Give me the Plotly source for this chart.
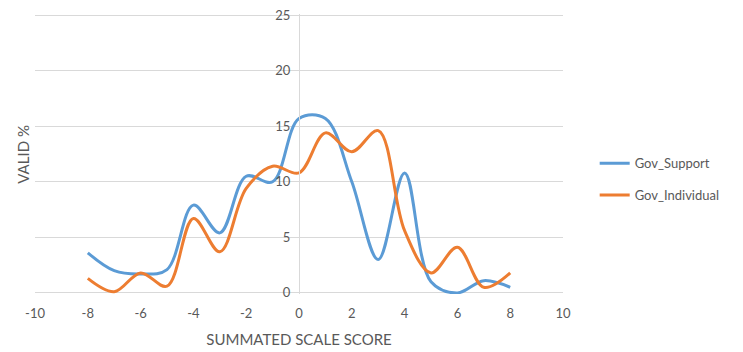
import plotly.graph_objects as go

x_scores = [-8, -7, -6, -5, -4, -3, -2, -1, 0, 1, 2, 3, 4, 5, 6, 7, 8]
gov_support = [3.6, 2.0, 1.7, 2.1, 7.9, 5.4, 10.5, 10.0, 15.7, 15.7, 10.0, 3.0, 10.8, 1.0, 0.0, 1.1, 0.5]
gov_individual = [1.3, 0.1, 1.8, 0.6, 6.7, 3.7, 9.4, 11.4, 10.8, 14.4, 12.7, 14.6, 5.6, 1.8, 4.1, 0.5, 1.8]

x_ticks = [-10, -8, -6, -4, -2, 0, 2, 4, 6, 8, 10]
y_ticks = [0, 5, 10, 15, 20, 25]

FONT = "Lato, 'Open Sans', sans-serif"
GRAY = "#595959"

fig = go.Figure()
fig.add_trace(go.Scatter(x=x_scores, y=gov_support, name="Gov_Support", mode="lines",
                         legendgroup="a",
                         line=dict(color="#5B9BD5", width=3, shape="spline", smoothing=1)))
fig.add_trace(go.Scatter(x=x_scores, y=gov_individual, name="Gov_Individual", mode="lines",
                         legendgroup="b",
                         line=dict(color="#ED7D31", width=3, shape="spline", smoothing=1)))

fig.update_layout(
    width=743, height=352,
    margin=dict(l=35, r=180, t=14, b=58),
    paper_bgcolor="white", plot_bgcolor="white",
    font=dict(family=FONT, color=GRAY, size=13),
    xaxis=dict(range=[-10, 10], tickvals=x_ticks, ticktext=[str(v) for v in x_ticks],
               showgrid=False, zeroline=False, showline=False, automargin=False,
               tickfont=dict(size=13, color=GRAY), ticklabelstandoff=10,
               title=dict(text="SUMMATED SCALE SCORE", font=dict(size=15, color=GRAY), standoff=14)),
    yaxis=dict(range=[-0.1, 25.1], tickvals=y_ticks, anchor="free", position=0.5,
               showgrid=True, gridcolor="#d9d9d9", gridwidth=1, automargin=False,
               zeroline=False, showline=True, linecolor="#d9d9d9", linewidth=1,
               ticks="", tickfont=dict(size=13, color=GRAY), ticklabelstandoff=6),
    legend=dict(x=1.06, y=0.41, xanchor="left", yanchor="middle",
                font=dict(size=13, color=GRAY), itemwidth=30, tracegroupgap=12),
    showlegend=True,
)

fig.add_annotation(text="VALID %", xref="paper", yref="paper", x=-0.044, y=0.5,
                   textangle=-90, showarrow=False, font=dict(size=15, color=GRAY, family=FONT))

fig.write_html("out.html")
